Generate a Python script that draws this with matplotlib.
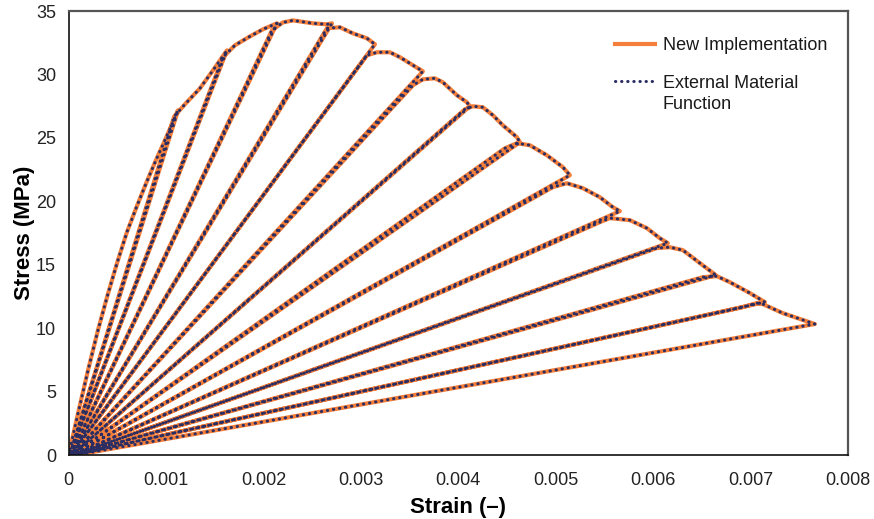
import matplotlib.pyplot as plt

# ascending envelope up to the first unloading point
env_strain = [0.0, 0.0001, 0.0002, 0.0003, 0.0004, 0.0005, 0.0006, 0.0007, 0.0008, 0.0009, 0.0010]
env_stress = [0.0, 3.4, 6.7, 9.8, 12.6, 15.2, 17.6, 19.6, 21.5, 23.3, 25.0]

# unloading points (sharp corners on the envelope)
unl_strain = [0.001124, 0.001626, 0.002139, 0.002704, 0.003145, 0.003637, 0.004120,
              0.004633, 0.005146, 0.005659, 0.006151, 0.006644, 0.007147, 0.007660]
unl_stress = [27.18, 31.90, 34.03, 34.03, 32.38, 30.25, 27.50,
              24.67, 22.07, 19.24, 16.72, 14.20, 12.08, 10.35]

# strain where each unloading branch reaches zero stress
res_strain = [0.00001, 0.00001, 0.00002, 0.00002, 0.00002, 0.00003, 0.00003,
              0.00003, 0.00003, 0.00004, 0.00004, 0.00004, 0.00004, 0.00005]

# reloading end + envelope hump between unloading point k-1 and k
hump_strain = [
    [0.001085, 0.00120, 0.001349, 0.001483],
    [0.001585, 0.001708, 0.001862, 0.001996],
    [0.002088, 0.002200, 0.002304, 0.002509, 0.002652],
    [0.002652, 0.002786, 0.002919, 0.003063],
    [0.003063, 0.003166, 0.003299, 0.003402, 0.003535],
    [0.003535, 0.003637, 0.003760, 0.003842, 0.003986, 0.004089],
    [0.004068, 0.004150, 0.004253, 0.004356, 0.004458, 0.004602],
    [0.004479, 0.004602, 0.004735, 0.004910, 0.005074],
    [0.004971, 0.005115, 0.005279, 0.005453, 0.005587],
    [0.005453, 0.005556, 0.005761, 0.005936, 0.006069],
    [0.006038, 0.006172, 0.006305, 0.006480],
    [0.006510, 0.006654, 0.006787, 0.006993],
    [0.006920, 0.007064, 0.007126, 0.007331],
]
hump_stress = [
    [26.70, 27.70, 28.91, 30.33],
    [31.36, 32.30, 33.00, 33.56],
    [33.48, 34.10, 34.26, 34.03, 33.95],
    [33.64, 33.72, 33.24, 32.85],
    [31.51, 31.75, 31.75, 31.36, 30.73],
    [29.15, 29.62, 29.70, 29.39, 28.37, 27.81],
    [27.26, 27.50, 27.42, 26.79, 26.00, 25.06],
    [24.19, 24.59, 24.43, 23.64, 22.70],
    [21.13, 21.44, 21.05, 20.34, 19.55],
    [18.37, 18.69, 18.53, 17.90, 17.11],
    [16.33, 16.40, 16.17, 15.15],
    [14.04, 14.12, 13.65, 12.79],
    [11.68, 12.00, 11.92, 11.21],
]

# assemble the full loading path
strain = list(env_strain)
stress = list(env_stress)
for k in range(len(unl_strain)):
    if k > 0:
        strain += hump_strain[k - 1]
        stress += hump_stress[k - 1]
    strain.append(unl_strain[k])
    stress.append(unl_stress[k])
    strain.append(res_strain[k])
    stress.append(0.0)

plt.rcParams['font.family'] = ['Liberation Sans', 'DejaVu Sans']

fig = plt.figure(figsize=(8.74, 5.19), dpi=100)
ax = fig.add_axes([0.0784, 0.1224, 0.8918, 0.8564])

ax.plot(strain, stress, color='#F47F3B', lw=3.0, solid_joinstyle='round',
        label='New Implementation')
ax.plot(strain, stress, color='#2B2E63', lw=2.2, linestyle=(0, (0.1, 1.9)),
        dash_capstyle='round', label='External Material')

ax.set_xlim(0, 0.008)
ax.set_ylim(0, 35)
ax.set_xticks([0, 0.001, 0.002, 0.003, 0.004, 0.005, 0.006, 0.007, 0.008])
ax.set_xticklabels(['0', '0.001', '0.002', '0.003', '0.004', '0.005', '0.006', '0.007', '0.008'])
ax.set_yticks(range(0, 36, 5))
ax.tick_params(length=0, labelsize=13, colors='#222222')
ax.tick_params(axis='x', pad=12)
ax.tick_params(axis='y', pad=9)

for side in ['left', 'bottom']:
    ax.spines[side].set_color('#111111')
    ax.spines[side].set_linewidth(1.2)
for side in ['top', 'right']:
    ax.spines[side].set_color('#555555')
    ax.spines[side].set_linewidth(1.6)

ax.set_xlabel('Strain (–)', fontsize=16, fontweight='bold', labelpad=6)
ax.set_ylabel('Stress (MPa)', fontsize=16, fontweight='bold', labelpad=1)

leg = ax.legend(loc='upper left', bbox_to_anchor=(0.68, 0.978), frameon=False,
                fontsize=13, handlelength=2.2, handletextpad=0.45, labelspacing=1.15)
for t in leg.get_texts():
    t.set_color('#1a1a1a')

# second line of the dotted series label, under "External Material"
fig.canvas.draw()
t2 = leg.get_texts()[1]
bb = t2.get_window_extent().transformed(ax.transAxes.inverted())
ax.text(bb.x0, bb.y0 - 0.01, 'Function', transform=ax.transAxes, fontsize=13,
        color='#1a1a1a', ha='left', va='top')

fig.savefig('out.png', dpi=100)
